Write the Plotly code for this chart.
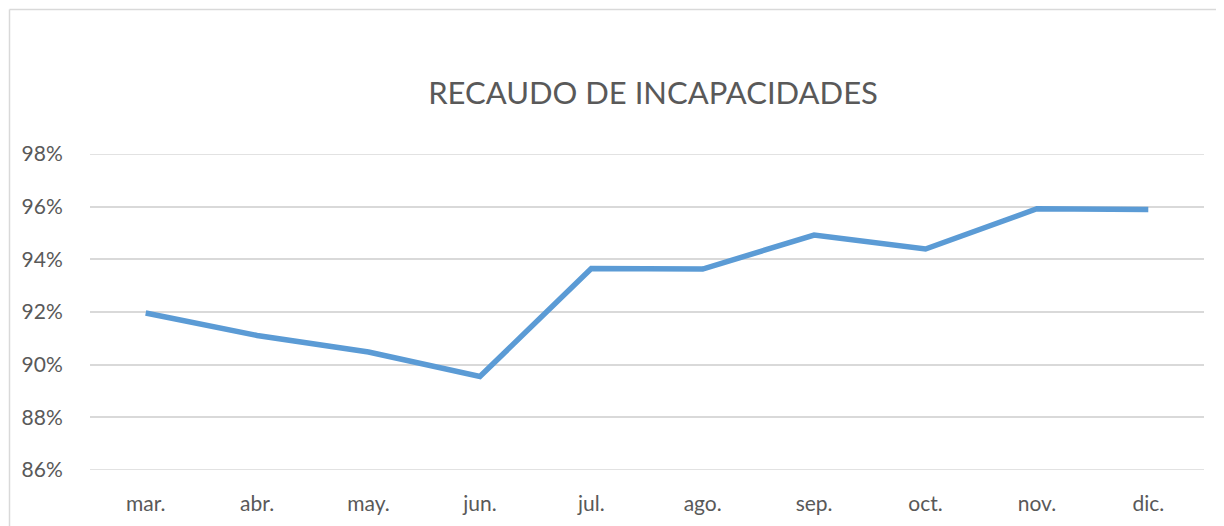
import plotly.graph_objects as go

months = ["mar.", "abr.", "may.", "jun.", "jul.", "ago.", "sep.", "oct.", "nov.", "dic."]
recaudo = [0.9196, 0.9111, 0.9048, 0.8955, 0.9365, 0.9363, 0.9492, 0.9439, 0.9592, 0.9589]
y_ticks = [0.86, 0.88, 0.90, 0.92, 0.94, 0.96, 0.98]
y_tick_labels = ["86%", "88%", "90%", "92%", "94%", "96%", "98%"]
title_text = "RECAUDO DE INCAPACIDADES"

# the page places the figure at an 8px offset; compensate in the margins
OFF = 8
W, H = 1224, 526
ml, mt = 90 - OFF, 154 - OFF
mr = W - (1204 - OFF)
mb = H - (470 - OFF)
pw, ph = W - ml - mr, H - mt - mb

fig = go.Figure()
fig.add_trace(go.Scatter(
    x=months, y=recaudo, mode="lines",
    line=dict(color="#5B9BD5", width=5.5, shape="linear"),
    hoverinfo="x+y", showlegend=False,
))

def px_x(p):
    return (p - ml) / pw

def px_y(p):
    return (H - mb - p) / ph

border = "#D9D9D9"
y_lo, y_hi = y_ticks[0], y_ticks[-1]
shapes = [
    dict(type="line", xref="paper", yref="paper",
         x0=px_x(9.5 - OFF), x1=px_x(W + 5), y0=px_y(9.5 - OFF), y1=px_y(9.5 - OFF),
         line=dict(color=border, width=1.5)),
    dict(type="line", xref="paper", yref="paper",
         x0=px_x(9.5 - OFF), x1=px_x(9.5 - OFF), y0=px_y(9.5 - OFF), y1=px_y(H + 5),
         line=dict(color=border, width=1.5)),
]
for yv in (y_lo, y_hi):
    shapes.append(dict(type="line", xref="paper", yref="y", layer="below",
                       x0=0, x1=1, y0=yv, y1=yv,
                       line=dict(color=border, width=1.5)))

fig.update_layout(
    width=W, height=H,
    margin=dict(l=ml, r=mr, t=mt, b=mb),
    paper_bgcolor="white", plot_bgcolor="white",
    font=dict(family="Lato, 'Open Sans', sans-serif", color="#595959"),
    title=dict(text=title_text, x=(653 - OFF) / W, xref="container", xanchor="center",
               y=1 - (93 - OFF) / H, yref="container", yanchor="middle",
               font=dict(size=31, color="#595959")),
    xaxis=dict(
        type="category", showgrid=False, zeroline=False, showline=False,
        ticks="outside", ticklen=15, tickcolor="rgba(0,0,0,0)",
        tickfont=dict(size=21, color="#595959"),
        range=[-0.5, len(months) - 0.5],
    ),
    yaxis=dict(
        range=[y_lo, y_hi], tickvals=y_ticks, ticktext=y_tick_labels,
        showgrid=True, gridcolor=border, gridwidth=1.5, zeroline=False, showline=False,
        ticks="outside", ticklen=22, tickcolor="rgba(0,0,0,0)",
        tickfont=dict(size=21, color="#595959"),
    ),
    shapes=shapes,
)

fig.write_html("out.html")
